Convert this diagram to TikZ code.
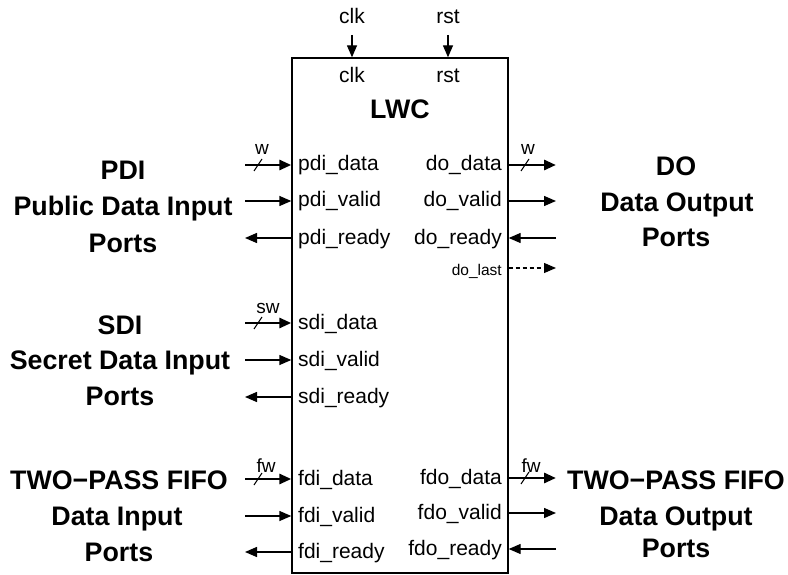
\documentclass[tikz,border=0pt]{standalone}
\usepackage{fontspec}
\setmainfont{Liberation Sans}
\usetikzlibrary{arrows.meta}
\begin{document}
\begin{tikzpicture}[x=1pt,y=-1pt,
  sig/.style={line width=1.4pt,-{Triangle[length=12pt,width=10pt]}},
  bus/.style={line width=2.8pt,-{Triangle[length=12pt,width=10pt]}},
  dsig/.style={line width=1.2pt,dash pattern=on 4pt off 3pt,-{Triangle[length=12pt,width=10pt]}},
  slash/.style={line width=1.1pt},
  port/.style={font=\fontsize{21}{24}\selectfont, inner sep=0},
  small/.style={font=\fontsize{19}{21}\selectfont, inner sep=0, anchor=base},
  tiny/.style={font=\fontsize{15.5}{18}\selectfont, inner sep=0, anchor=base east},
  grp/.style={font=\fontsize{26.8}{30}\selectfont\bfseries, inner sep=0, anchor=base},
]
\useasboundingbox (0,0) rectangle (788,575);
% main block
\node[draw, line width=1.4pt, minimum width=216pt, minimum height=515pt, inner sep=0] (lwc) at (400,315.5) {};
\node[grp] (lwct) at (400,119) {LWC};
\node[port, anchor=base] (clki) at (352,83) {clk};
\node[port, anchor=base] (rsti) at (448,83) {rst};
% clk / rst
\node[port, anchor=base] (clko) at (352,24) {clk};
\node[port, anchor=base] (rsto) at (448,24) {rst};
\coordinate (clkA) at (352,35);
\coordinate (rstA) at (448,35);
\draw[sig] (clkA) -- (clkA |- lwc.north);
\draw[sig] (rstA) -- (rstA |- lwc.north);
% left coordinates
\foreach \n/\y in {pdid/165,pdiv/201,pdir/238,sdid/323,sdiv/360,sdir/397,fdid/479,fdiv/516,fdir/552}{
  \coordinate (\n) at (245,\y);
}
\foreach \n/\y in {dod/165,dov/201,dor/238,dol/268,fdod/478,fdov/513,fdor/549}{
  \coordinate (\n) at (556,\y);
}
% left arrows
\draw[bus] (pdid) -- (pdid -| lwc.west);
\draw[sig] (pdiv) -- (pdiv -| lwc.west);
\draw[sig] (pdir -| lwc.west) -- (pdir);
\draw[bus] (sdid) -- (sdid -| lwc.west);
\draw[sig] (sdiv) -- (sdiv -| lwc.west);
\draw[sig] (sdir -| lwc.west) -- (sdir);
\draw[bus] (fdid) -- (fdid -| lwc.west);
\draw[sig] (fdiv) -- (fdiv -| lwc.west);
\draw[sig] (fdir -| lwc.west) -- (fdir);
% right arrows
\draw[bus] (dod -| lwc.east) -- (dod);
\draw[sig] (dov -| lwc.east) -- (dov);
\draw[sig] (dor) -- (dor -| lwc.east);
\draw[dsig] (dol -| lwc.east) -- (dol);
\draw[bus] (fdod -| lwc.east) -- (fdod);
\draw[sig] (fdov -| lwc.east) -- (fdov);
\draw[sig] (fdor) -- (fdor -| lwc.east);
% bus slashes
\draw[slash] (254,171) -- (262,159);
\draw[slash] (254,329) -- (262,317);
\draw[slash] (254,485) -- (262,473);
\draw[slash] (521,171) -- (529,159);
\draw[slash] (521,484) -- (529,472);
% width labels
\node[small] (wl) at (262,155) {w};
\node[small] (swl) at (268,313) {sw};
\node[small] (fwl) at (266,472) {fw};
\node[small] (wr) at (528,155) {w};
\node[small] (fwr) at (531,472) {fw};
% left port labels
\foreach \n/\t in {pdid/pdi\_data,pdiv/pdi\_valid,pdir/pdi\_ready,sdid/sdi\_data,sdiv/sdi\_valid,sdir/sdi\_ready,fdid/fdi\_data,fdiv/fdi\_valid,fdir/fdi\_ready}{
  \node[port, anchor=base west] (\n l) at ([shift={(53,6)}]\n) {\t};
}
\foreach \n/\t in {dod/do\_data,dov/do\_valid,dor/do\_ready,fdod/fdo\_data,fdov/fdo\_valid,fdor/fdo\_ready}{
  \node[port, anchor=base east] (\n l) at ([shift={(-54,6)}]\n) {\t};
}
\node[tiny] (doll) at ([shift={(-54,7)}]dol) {do\_last};
% group labels
\node[grp] (g1a) at (123,180) {PDI};
\node[grp] (g1b) at (123,216) {Public Data Input};
\node[grp] (g1c) at (123,252) {Ports};
\node[grp] (g2a) at (120,334) {SDI};
\node[grp] (g2b) at (120,369) {Secret Data Input};
\node[grp] (g2c) at (120,405) {Ports};
\node[grp] (g3a) at (119,489) {TWO−PASS FIFO};
\node[grp] (g3b) at (117,525) {Data Input};
\node[grp] (g3c) at (119,561) {Ports};
\node[grp] (g4a) at (676,176) {DO};
\node[grp] (g4b) at (677,212) {Data Output};
\node[grp] (g4c) at (676,247) {Ports};
\node[grp] (g5a) at (676,489) {TWO−PASS FIFO};
\node[grp] (g5b) at (676,525) {Data Output};
\node[grp] (g5c) at (676,557) {Ports};
\end{tikzpicture}
\end{document}
